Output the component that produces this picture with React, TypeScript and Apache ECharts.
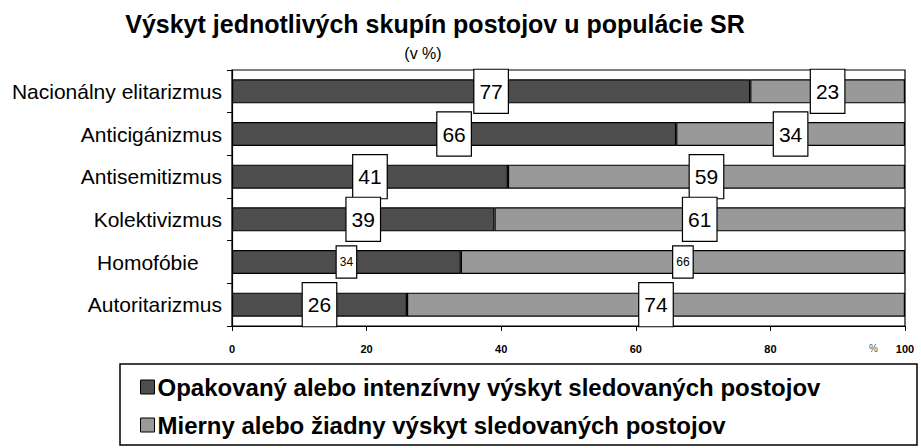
import React, { useEffect, useRef } from "react";
import * as echarts from "echarts";

const categories = [
  "Nacionálny elitarizmus",
  "Anticigánizmus",
  "Antisemitizmus",
  "Kolektivizmus",
  "Homofóbie    ",
  "Autoritarizmus",
];
const intensive = [77, 66, 41, 39, 34, 26];
const mild = [23, 34, 59, 61, 66, 74];
const xTicks = [0, 20, 40, 60, 80, 100];
const seriesNames = [
  "Opakovaný alebo intenzívny výskyt sledovaných postojov",
  "Mierny alebo žiadny výskyt sledovaných postojov",
];

const FONT = "Liberation Sans, Arial, sans-serif";

export default function App() {
  const ref = useRef<HTMLDivElement>(null);
  useEffect(() => {
    if (!ref.current) return;
    const chart = echarts.init(ref.current, null, { renderer: "svg" });
    const smallIdx = 4;
    const mkLabel = (i: number) =>
      i === smallIdx ? { fontSize: 12, padding: [10, 3, 9, 3] } : {};
    const labelBase = {
      show: true,
      position: "inside",
      color: "#000",
      fontFamily: FONT,
      fontSize: 21,
      backgroundColor: "#fff",
      borderColor: "#000",
      borderWidth: 1.2,
      padding: [12, 5, 10, 5],
    };
    chart.setOption({
      animation: false,
      textStyle: { fontFamily: FONT },
      title: [
        {
          text: "Výskyt jednotlivých skupín postojov u populácie SR",
          left: 430,
          textAlign: "center",
          top: 6,
          textStyle: { fontSize: 25, fontWeight: "bold", color: "#000", fontFamily: FONT },
        },
        {
          text: "(v %)",
          left: 418,
          textAlign: "center",
          top: 40,
          textStyle: { fontSize: 16, fontWeight: "normal", color: "#000", fontFamily: FONT },
        },
      ],
      legend: {
        orient: "vertical",
        left: 135,
        top: 370,
        itemWidth: 14,
        itemHeight: 14,
        itemGap: 14,
        icon: "rect",
        itemStyle: { borderColor: "#000", borderWidth: 1 },
        textStyle: { fontSize: 24, fontWeight: "bold", color: "#000", fontFamily: FONT, padding: [0, 0, 0, -2] },
        data: seriesNames,
      },
      grid: {
        left: 232,
        right: 16,
        top: 70,
        height: 256,
        show: true,
        borderColor: "#000",
        borderWidth: 1.2,
        backgroundColor: "#fff",
      },
      xAxis: {
        type: "value",
        min: 0,
        max: 100,
        interval: 20,
        splitLine: { show: false },
        axisLine: { show: true, lineStyle: { color: "#000", width: 1.2 } },
        axisTick: { show: true, length: 5, lineStyle: { color: "#000" } },
        axisLabel: {
          color: "#000",
          fontSize: 11,
          fontWeight: "bold",
          margin: 17,
          fontFamily: FONT,
          formatter: (v: number) => (xTicks.includes(v) ? String(v) : ""),
        },
      },
      yAxis: {
        type: "category",
        inverse: true,
        data: categories,
        axisLine: { show: true, lineStyle: { color: "#000", width: 1.2 } },
        axisTick: { show: true, length: 5, lineStyle: { color: "#000" } },
        axisLabel: { color: "#000", fontSize: 21, margin: 10, fontFamily: FONT },
      },
      graphic: [
        {
          type: "text",
          left: 869,
          top: 343,
          style: { text: "%", fontSize: 10, fill: "#555", fontFamily: FONT },
        },
        {
          type: "rect",
          shape: { x: 120, y: 364, width: 797, height: 81 },
          style: { fill: "none", stroke: "#000", lineWidth: 1.5 },
          z: -1,
        },
      ],
      series: [
        {
          name: seriesNames[0],
          type: "bar",
          stack: "total",
          barWidth: 24,
          itemStyle: { color: "#4d4d4d", borderColor: "#000", borderWidth: 1.2 },
          label: labelBase,
          data: intensive.map((v, i) => ({ value: v, label: mkLabel(i) })),
        },
        {
          name: seriesNames[1],
          type: "bar",
          stack: "total",
          barWidth: 24,
          itemStyle: { color: "#999999", borderColor: "#000", borderWidth: 1.2 },
          label: labelBase,
          data: mild.map((v, i) => ({ value: v, label: mkLabel(i) })),
        },
      ],
    });
    return () => chart.dispose();
  }, []);
  return <div ref={ref} style={{ position: "absolute", left: 0, top: 0, width: 921, height: 448 }} />;
}
